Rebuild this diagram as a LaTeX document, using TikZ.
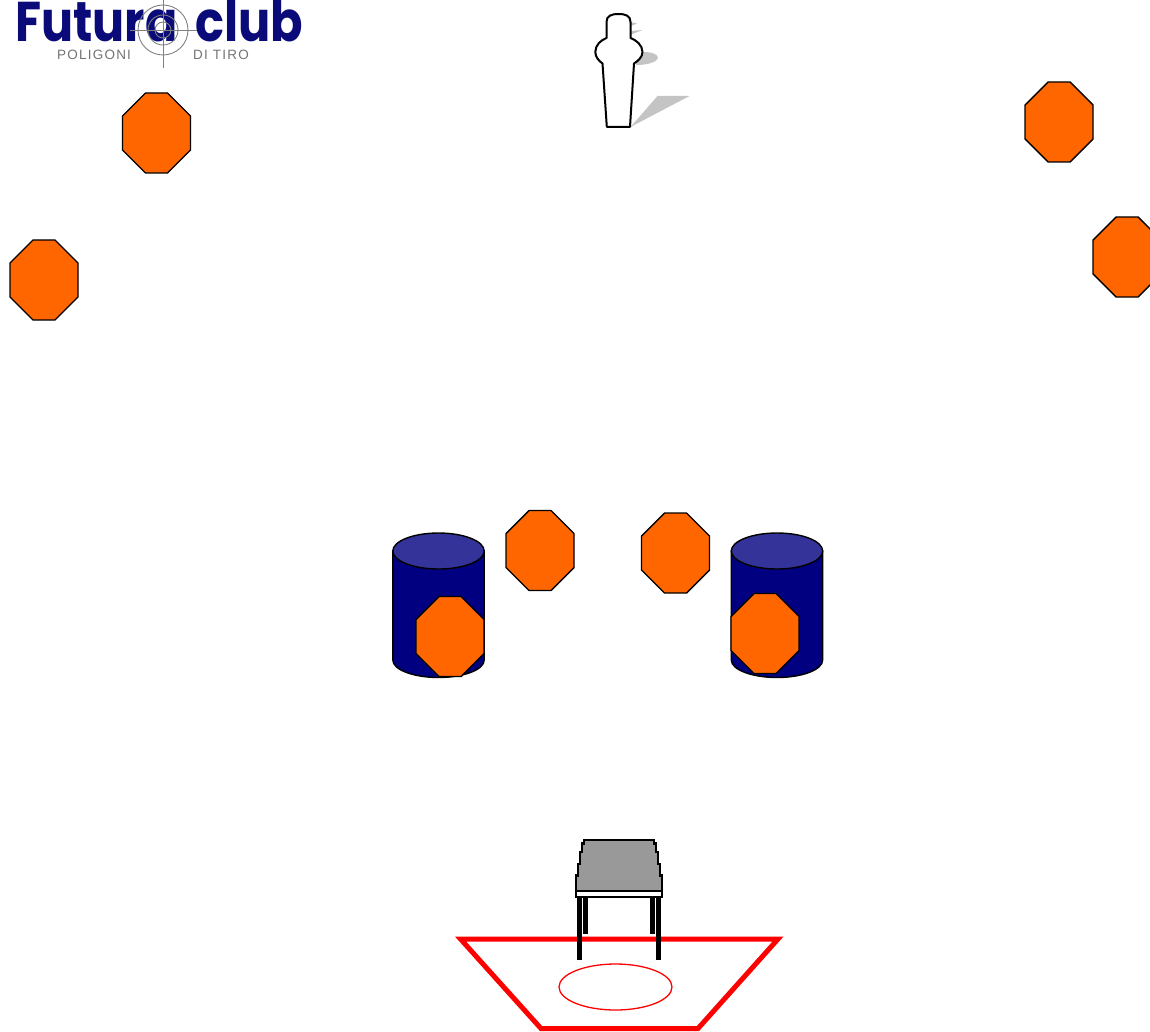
\documentclass[tikz,border=0pt]{standalone}
\usepackage{graphicx}
\usepackage{fontspec}
\setmainfont{Liberation Sans}
\newfontfamily\logofont{Poppins}
\definecolor{orangeT}{HTML}{FF6600}
\definecolor{navyT}{HTML}{000080}
\definecolor{capT}{HTML}{333399}
\definecolor{logoT}{HTML}{0A0A78}
\definecolor{shadowT}{HTML}{C4C4C4}
\definecolor{tableT}{HTML}{999999}
\tikzset{
  octa/.style={draw=black,fill=orangeT,line width=1.4pt,line join=miter},
  barrelbody/.style={draw=black,fill=navyT,line width=1.4pt},
  barrelcap/.style={draw=black,fill=capT,line width=1.4pt},
  shade/.style={fill=shadowT,draw=none},
  figureline/.style={draw=black,fill=white,line width=2pt,line join=round},
  tableline/.style={draw=black,line width=2.4pt,line join=miter},
  legT/.style={fill=black,draw=none},
  zoneline/.style={draw=red,line width=5pt,line join=miter},
  zoneoval/.style={draw=red,line width=1.3pt},
  ringT/.style={draw=black!50,line width=0.9pt},
  logotext/.style={inner sep=0pt,anchor=base west,text=logoT,font=\fontsize{56}{56}\logofont\bfseries},
  logosub/.style={inner sep=0pt,anchor=base west,text=black!55,font=\fontsize{13.5}{13.5}\selectfont\addfontfeature{LetterSpace=9}},
}
\newcommand{\octagonT}[2]{%
  \path[octa] (#1+23,#2) -- (#1+45,#2) -- (#1+68,#2+23) -- (#1+68,#2+57)
    -- (#1+45,#2+80) -- (#1+23,#2+80) -- (#1,#2+57) -- (#1,#2+23) -- cycle;}
\newcommand{\barrelT}[1]{%
  \path[barrelbody] (#1,551) -- (#1,660) arc[start angle=180,end angle=0,x radius=45.7,y radius=17.5]
    -- (#1+91.4,551) -- cycle;
  \path[barrelcap] (#1+45.7,551) ellipse[x radius=45.7,y radius=18];}
\begin{document}
\begin{tikzpicture}[x=1pt,y=-1pt]
\useasboundingbox (0,0) rectangle (1150,1032);
% logo
\node[logotext] (logoa) at (15,42) {\scalebox{0.85}[1]{Futura}};
\node[logotext] (logob) at (195,42) {\scalebox{0.855}[1]{club}};
\node[logosub] (logoc) at (57,60) {POLIGONI};
\node[logosub] (logod) at (193,60) {DI TIRO};
\foreach \r in {8,15,25} \path[ringT] (163,30) circle[radius=\r];
\path[ringT] (163,0) -- (163,68) (130,30) -- (197,30);
% silhouette shadow
\path[shade] (630.5,127) -- (657.5,96) -- (689.5,96) -- cycle;
\path[shade] (636,52) .. controls (650,51) and (658,54) .. (658,57.5)
  .. controls (658,61) and (650,65) .. (636,65) -- cycle;
\path[shade] (630,22) -- (637,23.5) -- (630,26.5) -- cycle;
\path[shade] (630,31) -- (642.5,30) -- (630,35) -- cycle;
% silhouette
\path[figureline] (606.5,38) -- (606.5,22) .. controls (606.5,16) and (611,14) .. (618.5,14)
  .. controls (626,14) and (630.5,16) .. (630.5,22) -- (630.5,38)
  .. controls (636,40) and (642.5,45) .. (642.5,52) .. controls (642.5,57) and (638,61) .. (634,63.5)
  -- (630,126.8) -- (606.8,126.8) -- (602.5,63.5)
  .. controls (599,61) and (595.3,57) .. (595.3,52) .. controls (595.3,45) and (601,40) .. (606.5,38) -- cycle;
% octagons far
\octagonT{122.5}{93}
\octagonT{10}{240}
\octagonT{1025}{82}
\octagonT{1093}{217}
% barrels
\barrelT{392.8}
\barrelT{731.3}
% octagons near
\octagonT{506}{510.5}
\octagonT{641.5}{513}
\octagonT{416}{596.5}
\octagonT{731}{593.5}
% zone
\path[zoneline] (460.5,939) -- (778,939) -- (698,1028.5) -- (541,1028.5) -- cycle;
\path[zoneoval] (615.5,987) ellipse[x radius=56.5,y radius=23];
% table legs
\path[legT] (583.3,896) rectangle (588,934);
\path[legT] (650.3,896) rectangle (655,934);
\path[legT] (577.3,896) rectangle (582,960);
\path[legT] (656,896) rectangle (660.7,960);
% table top
\path[tableline,fill=tableT] (584,840) -- (654,840) -- (654,843.5) -- (656,843.5) -- (656,852) -- (658,852)
  -- (658,864) -- (660,864) -- (660,875.5) -- (662,875.5) -- (662,891) -- (576,891) -- (576,875.5)
  -- (578,875.5) -- (578,864) -- (580,864) -- (580,852) -- (582,852) -- (582,843.5) -- (584,843.5) -- cycle;
\path[tableline,fill=white] (576,891) rectangle (662,897);
\end{tikzpicture}
\end{document}
